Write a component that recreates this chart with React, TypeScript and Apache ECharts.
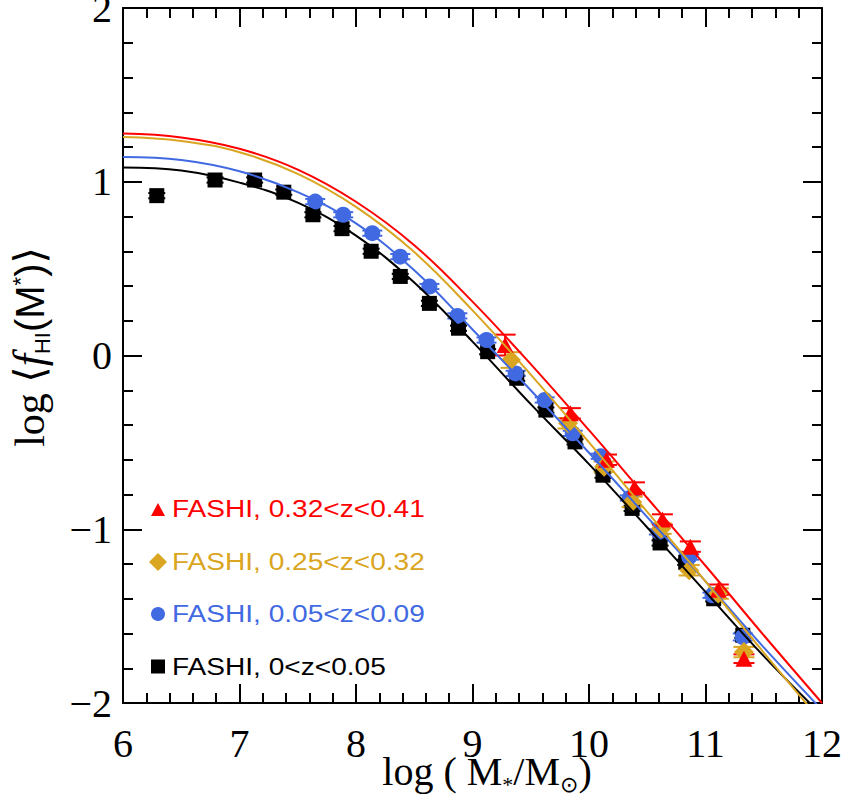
import React, { useEffect, useRef } from 'react';
import * as echarts from 'echarts';

// ---- data ----
const massBlack = [6.29, 6.79, 7.13, 7.38, 7.63, 7.88, 8.13, 8.38, 8.63, 8.88, 9.13, 9.38, 9.63, 9.88, 10.12, 10.37, 10.61, 10.83, 11.07, 11.32];
const fhiBlack = [0.92, 1.01, 1.01, 0.94, 0.81, 0.73, 0.6, 0.455, 0.3, 0.157, 0.022, -0.131, -0.314, -0.497, -0.689, -0.88, -1.079, -1.19, -1.4, -1.61];
const errBlack = [0.015, 0.015, 0.015, 0.015, 0.015, 0.015, 0.015, 0.015, 0.015, 0.015, 0.015, 0.015, 0.015, 0.015, 0.015, 0.015, 0.015, 0.015, 0.015, 0.015];

const massBlue = [7.65, 7.89, 8.14, 8.38, 8.63, 8.87, 9.12, 9.37, 9.62, 9.86, 10.1, 10.35, 10.6, 10.86, 11.06, 11.32];
const fhiBlue = [0.886, 0.81, 0.704, 0.569, 0.397, 0.228, 0.089, -0.103, -0.256, -0.448, -0.58, -0.82, -1.015, -1.16, -1.38, -1.62];
const errBlue = [0.015, 0.015, 0.015, 0.015, 0.015, 0.015, 0.015, 0.015, 0.015, 0.015, 0.015, 0.015, 0.015, 0.015, 0.015, 0.02];

const massOrange = [9.33, 9.82, 10.13, 10.37, 10.62, 10.86, 11.11, 11.33];
const fhiOrange = [-0.026, -0.39, -0.64, -0.843, -0.996, -1.236, -1.37, -1.707];
const errOrange = [0.045, 0.03, 0.03, 0.03, 0.03, 0.03, 0.03, 0.03];

const massRed = [9.28, 9.84, 10.15, 10.39, 10.63, 10.87, 11.11, 11.33];
const fhiRed = [0.06, -0.333, -0.6, -0.76, -0.944, -1.1, -1.348, -1.745];
const errRed = [0.06, 0.03, 0.03, 0.03, 0.03, 0.03, 0.03, 0.025];

const curveMass = [6, 6.5, 7, 7.5, 8, 8.5, 9, 9.5, 10, 10.5, 11, 11.5, 12];
const curveRed = [1.277, 1.255, 1.19, 1.07, 0.885, 0.635, 0.31, -0.05, -0.43, -0.82, -1.21, -1.61, -2.0];
const curveOrange = [1.258, 1.235, 1.17, 1.045, 0.855, 0.595, 0.26, -0.11, -0.5, -0.9, -1.3, -1.71, -2.11];
const curveBlue = [1.142, 1.125, 1.06, 0.94, 0.76, 0.49, 0.15, -0.2, -0.56, -0.93, -1.3, -1.68, -2.04];
const curveBlack = [1.082, 1.065, 0.995, 0.88, 0.69, 0.42, 0.08, -0.28, -0.625, -0.99, -1.36, -1.73, -2.07];

const legendLabels = ['FASHI, 0.32<z<0.41', 'FASHI, 0.25<z<0.32', 'FASHI, 0.05<z<0.09', 'FASHI, 0<z<0.05'];

const RED = '#ff0000';
const ORANGE = '#daa520';
const BLUE = '#4169e1';
const BLACK = '#000000';

type Piece = { t: string; size: number; family: string; italic?: boolean; dy?: number };

function layoutPieces(pieces: Piece[]) {
  const ctx = document.createElement('canvas').getContext('2d')!;
  let cx = 0;
  const children: any[] = [];
  for (const p of pieces) {
    ctx.font = `${p.italic ? 'italic ' : ''}${p.size}px "${p.family}"`;
    const w = ctx.measureText(p.t).width;
    children.push({
      type: 'text',
      x: cx,
      y: (p.dy || 0) - 0.34 * p.size,
      style: {
        text: p.t,
        fontSize: p.size,
        fontFamily: p.family,
        fontStyle: p.italic ? 'italic' : 'normal',
        lineHeight: Math.round(p.size * 0.7),
        fill: '#000',
        align: 'left',
        verticalAlign: 'middle',
      },
    });
    cx += w;
  }
  return { children, width: cx };
}

function errorSeries(name: string, xs: number[], ys: number[], errs: number[], color: string, capW: number) {
  return {
    type: 'custom',
    name,
    silent: true,
    data: xs.map((x, i) => [x, ys[i] - errs[i], ys[i] + errs[i]]),
    encode: { x: 0, y: [1, 2] },
    renderItem: (params: any, api: any) => {
      const lo = api.coord([api.value(0), api.value(1)]);
      const hi = api.coord([api.value(0), api.value(2)]);
      const h = capW / 2;
      const style = { stroke: color, lineWidth: 2 };
      return {
        type: 'group',
        children: [
          { type: 'line', shape: { x1: lo[0], y1: lo[1], x2: hi[0], y2: hi[1] }, style },
          { type: 'line', shape: { x1: lo[0] - h, y1: lo[1], x2: lo[0] + h, y2: lo[1] }, style },
          { type: 'line', shape: { x1: hi[0] - h, y1: hi[1], x2: hi[0] + h, y2: hi[1] }, style },
        ],
      };
    },
  };
}

function curveSeries(name: string, ys: number[], color: string) {
  return {
    type: 'line',
    name,
    data: curveMass.map((x, i) => [x, ys[i]]),
    smooth: 0.4,
    showSymbol: false,
    silent: true,
    lineStyle: { color, width: 2 },
  };
}

function scatterSeries(name: string, xs: number[], ys: number[], color: string, symbol: string, size: any) {
  return {
    type: 'scatter',
    name,
    data: xs.map((x, i) => [x, ys[i]]),
    symbol,
    symbolSize: size,
    itemStyle: { color, opacity: 1 },
    silent: true,
  };
}

export default function App() {
  const ref = useRef<HTMLDivElement>(null);
  useEffect(() => {
    document.body.style.margin = '0';
    const chart = echarts.init(ref.current!, null, { renderer: 'svg' });

    const grid = { left: 123, top: 8, width: 699, height: 695, containLabel: false, outerBoundsMode: 'none' };
    const tickCommon = {
      axisLine: { show: true, onZero: false, lineStyle: { color: '#000', width: 2 } },
      axisTick: { show: true, inside: true, length: 19, lineStyle: { color: '#000', width: 2 } },
      minorTick: { show: true, splitNumber: 5, length: 10, lineStyle: { color: '#000', width: 2 } },
      splitLine: { show: false },
      minorSplitLine: { show: false },
    };
    const labelFont = { fontFamily: 'Liberation Serif', fontSize: 40, color: '#000', lineHeight: 26 };
    const minusFmt = (v: number) => (v < 0 ? '\u2212' + Math.abs(v) : String(v));

    // axis titles built from pieces
    const xName = layoutPieces([
      { t: 'log ( M', size: 40, family: 'Liberation Serif' },
      { t: '*', size: 22, family: 'Liberation Serif', dy: 7 },
      { t: '/M', size: 40, family: 'Liberation Serif' },
      { t: '\u2299', size: 22, family: 'DejaVu Sans', dy: 7 },
      { t: ')', size: 40, family: 'Liberation Serif' },
    ]);
    const yName = layoutPieces([
      { t: 'log ', size: 42, family: 'Liberation Serif' },
      { t: '\u27e8', size: 42, family: 'DejaVu Serif' },
      { t: 'f', size: 44, family: 'Liberation Serif', italic: true },
      { t: 'HI', size: 22, family: 'Liberation Sans', dy: 6 },
      { t: '(M', size: 40, family: 'Liberation Sans' },
      { t: '*', size: 22, family: 'Liberation Sans', dy: -16 },
      { t: ')', size: 40, family: 'Liberation Sans' },
      { t: '\u27e9', size: 42, family: 'DejaVu Serif' },
    ]);

    const legendRows = [
      { y: 509, color: RED, shape: 'tri' },
      { y: 562, color: ORANGE, shape: 'dia' },
      { y: 614, color: BLUE, shape: 'cir' },
      { y: 666.5, color: BLACK, shape: 'sq' },
    ];
    const mx = 158;
    const legendGraphics: any[] = [];
    legendRows.forEach((r, i) => {
      if (r.shape === 'tri') {
        legendGraphics.push({ type: 'polygon', shape: { points: [[mx - 7, r.y + 7], [mx + 7, r.y + 7], [mx, r.y - 6]] }, style: { fill: r.color } });
      } else if (r.shape === 'dia') {
        legendGraphics.push({ type: 'polygon', shape: { points: [[mx - 9, r.y], [mx, r.y - 9], [mx + 9, r.y], [mx, r.y + 9]] }, style: { fill: r.color } });
      } else if (r.shape === 'cir') {
        legendGraphics.push({ type: 'circle', shape: { cx: mx, cy: r.y, r: 7 }, style: { fill: r.color } });
      } else {
        legendGraphics.push({ type: 'rect', shape: { x: mx - 7, y: r.y - 7, width: 14, height: 14 }, style: { fill: r.color } });
      }
      legendGraphics.push({
        type: 'text',
        x: 172,
        y: r.y,
        scaleX: 1.17,
        style: {
          text: legendLabels[i],
          fontFamily: 'Liberation Sans',
          fontSize: 24,
          fill: r.color,
          align: 'left',
          verticalAlign: 'middle',
        },
      });
    });

    const option: any = {
      animation: false,
      backgroundColor: '#fff',
      grid,
      xAxis: [
        {
          type: 'value', min: 6, max: 12, interval: 1, position: 'bottom',
          ...tickCommon,
          axisLabel: { ...labelFont, margin: 27 },
        },
        {
          type: 'value', min: 6, max: 12, interval: 1, position: 'top',
          ...tickCommon,
          axisLabel: { show: false },
        },
      ],
      yAxis: [
        {
          type: 'value', min: -2, max: 2, interval: 1, position: 'left',
          ...tickCommon,
          axisLabel: { ...labelFont, margin: 11, formatter: minusFmt },
        },
        {
          type: 'value', min: -2, max: 2, interval: 1, position: 'right',
          ...tickCommon,
          axisLabel: { show: false },
        },
      ],
      series: [
        curveSeries('fit 0<z<0.05', curveBlack, BLACK),
        errorSeries('err 0<z<0.05', massBlack, fhiBlack, errBlack, BLACK, 17),
        scatterSeries(legendLabels[3], massBlack, fhiBlack, BLACK, 'rect', 15),
        curveSeries('fit 0.05<z<0.09', curveBlue, BLUE),
        errorSeries('err 0.05<z<0.09', massBlue, fhiBlue, errBlue, BLUE, 20),
        scatterSeries(legendLabels[2], massBlue, fhiBlue, BLUE, 'circle', 16),
        curveSeries('fit 0.25<z<0.32', curveOrange, ORANGE),
        errorSeries('err 0.25<z<0.32', massOrange, fhiOrange, errOrange, ORANGE, 21),
        scatterSeries(legendLabels[1], massOrange, fhiOrange, ORANGE, 'diamond', 20),
        curveSeries('fit 0.32<z<0.41', curveRed, RED),
        errorSeries('err 0.32<z<0.41', massRed, fhiRed, errRed, RED, 21),
        scatterSeries(legendLabels[0], massRed, fhiRed, RED, 'triangle', [17, 16]),
      ],
      graphic: [
        { type: 'group', x: 487 - xName.width / 2, y: 785, children: xName.children },
        { type: 'group', x: 44, y: 347 + yName.width / 2, rotation: Math.PI / 2, children: yName.children },
        ...legendGraphics,
      ],
    };
    chart.setOption(option);
    return () => chart.dispose();
  }, []);
  return <div ref={ref} style={{ width: 846, height: 798 }} />;
}
